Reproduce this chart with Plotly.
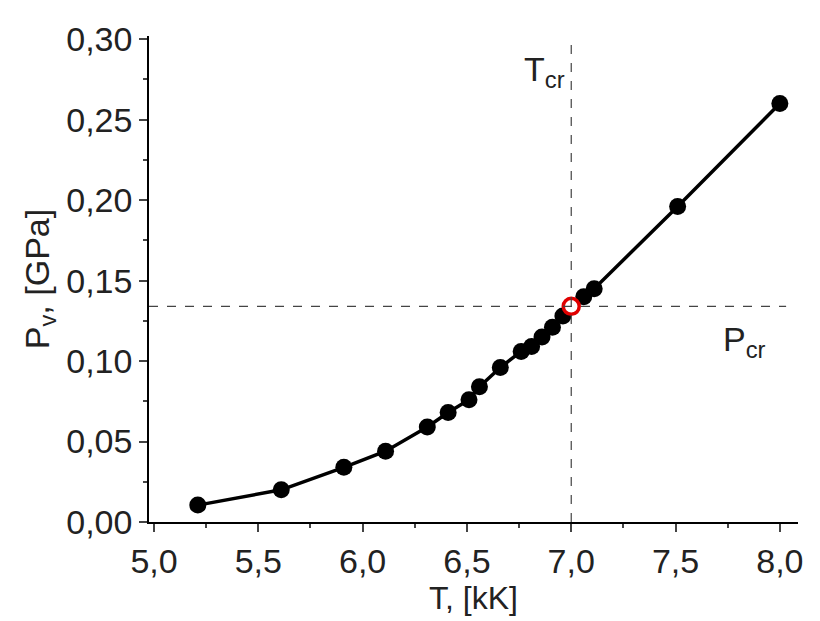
import plotly.graph_objects as go

T = [5.21, 5.61, 5.91, 6.11, 6.31, 6.41, 6.51, 6.56, 6.66, 6.76, 6.81, 6.86, 6.91, 6.96, 7.06, 7.11, 7.51, 8.0]
P = [0.0105, 0.020, 0.034, 0.044, 0.059, 0.068, 0.076, 0.084, 0.096, 0.106, 0.109, 0.115, 0.121, 0.128, 0.140, 0.145, 0.196, 0.260]
T_cr = 7.0
P_cr = 0.134

fig = go.Figure()
fig.add_shape(type="line", x0=T_cr, x1=T_cr, y0=0, y1=0.302, line=dict(color="#444", width=1.2, dash="dash"))
fig.add_shape(type="line", x0=4.976, x1=8.03, y0=P_cr, y1=P_cr, line=dict(color="#444", width=1.2, dash="dash"))
pts_T = T[:14] + [T_cr] + T[14:]
pts_P = P[:14] + [P_cr] + P[14:]
fig.add_trace(go.Scatter(x=pts_T, y=pts_P, mode="lines", line=dict(color="black", width=3.5), showlegend=False))
fig.add_trace(go.Scatter(x=T, y=P, mode="markers", marker=dict(color="black", size=17), showlegend=False))
fig.add_trace(go.Scatter(x=[T_cr], y=[P_cr], mode="markers",
                         marker=dict(color="white", size=16, line=dict(color="#e00000", width=3.5)), showlegend=False))

font = "Liberation Sans, Arial, sans-serif"
fig.add_annotation(x=T_cr, y=0.28, xref="x", yref="y", xanchor="right", xshift=-4, showarrow=False,
                   text="T<sub>cr</sub>", font=dict(size=34, family=font, color="#222"))
fig.add_annotation(x=7.83, y=0.112, xref="x", yref="y", showarrow=False,
                   text="P<sub>cr</sub>", font=dict(size=34, family=font, color="#222"))

fig.update_layout(
    width=820, height=621, plot_bgcolor="white", paper_bgcolor="white",
    margin=dict(l=141, r=30, t=25, b=107),
    font=dict(family=font, color="#222", size=34),
)
fig.update_xaxes(range=[4.976, 8.087], tickvals=[5.0, 5.5, 6.0, 6.5, 7.0, 7.5, 8.0],
                 ticktext=["5,0", "5,5", "6,0", "6,5", "7,0", "7,5", "8,0"],
                 ticks="outside", ticklen=8, tickwidth=1.5, showline=True, linecolor="black", linewidth=1.5,
                 showgrid=False, zeroline=False, tickfont=dict(size=34, family=font),
                 minor=dict(ticks="outside", ticklen=4, dtick=0.25, tick0=5.0),
                 title=dict(text="T, [kK]", font=dict(size=32, family=font), standoff=0))
fig.update_yaxes(range=[0, 0.302], tickvals=[0, 0.05, 0.10, 0.15, 0.20, 0.25, 0.30],
                 ticktext=["0,00", "0,05", "0,10", "0,15", "0,20", "0,25", "0,30"],
                 ticks="outside", ticklen=8, tickwidth=1.5, showline=True, linecolor="black", linewidth=1.5,
                 showgrid=False, zeroline=False, tickfont=dict(size=34, family=font),
                 minor=dict(ticks="outside", ticklen=4, dtick=0.025, tick0=0),
                 title=dict(text="P<sub>v</sub>, [GPa]", font=dict(size=34, family=font), standoff=6))
fig.write_html("out.html")
